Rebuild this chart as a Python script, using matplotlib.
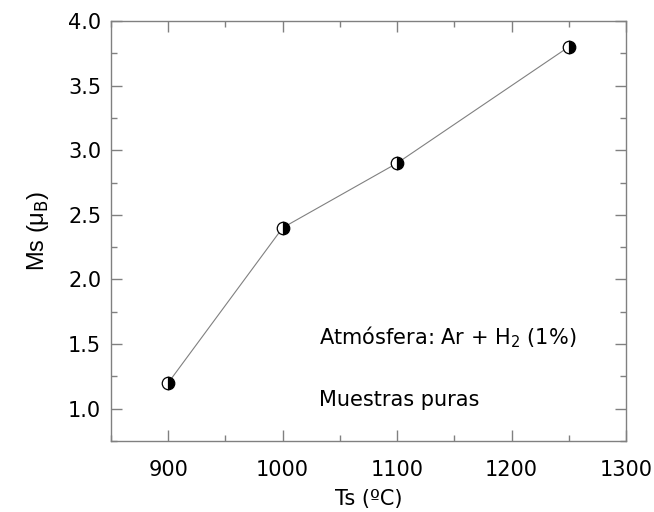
import matplotlib

matplotlib.use("Agg")
import matplotlib.pyplot as plt
from matplotlib.ticker import MultipleLocator, FormatStrFormatter

# sintering temperature (C) vs saturation magnetisation (mu_B)
ts = [900, 1000, 1100, 1250]
ms = [1.2, 2.4, 2.9, 3.8]

plt.rcParams["font.family"] = ["DejaVu Sans"]
plt.rcParams["mathtext.fontset"] = "dejavusans"

fig = plt.figure(figsize=(6.54, 5.12), dpi=100)
ax = fig.add_axes([111 / 654, 1 - 441 / 512, (626 - 111) / 654, (441 - 21) / 512])

ax.plot(ts, ms, color="#808080", lw=0.8, zorder=1)
ax.plot(ts, ms, ls="none", marker="o", ms=9, fillstyle="right",
        markerfacecolor="black", markerfacecoloralt="white",
        markeredgecolor="black", markeredgewidth=0.9, zorder=2)

ax.set_xlim(850, 1300)
ax.set_ylim(0.75, 4.0)
ax.xaxis.set_major_locator(MultipleLocator(100))
ax.xaxis.set_minor_locator(MultipleLocator(50))
ax.yaxis.set_major_locator(MultipleLocator(0.5))
ax.yaxis.set_minor_locator(MultipleLocator(0.25))
ax.yaxis.set_major_formatter(FormatStrFormatter("%.1f"))

for s in ax.spines.values():
    s.set_color("#808080")
    s.set_linewidth(1.0)
ax.tick_params(which="both", direction="in", top=True, right=True,
               color="#808080", labelsize=15)
ax.tick_params(which="major", length=8, width=1.0)
ax.tick_params(which="minor", length=4, width=1.0)
ax.tick_params(axis="x", which="major", pad=14)
ax.tick_params(axis="y", which="major", pad=7)

ax.set_xlabel("Ts (ºC)", fontsize=15, labelpad=6)
ax.set_ylabel("Ms (μ$_{\\rm B}$)", fontsize=17, family="Liberation Sans", labelpad=12)

ax.text(1032, 1.55, r"Atmósfera: Ar + H$_2$ (1%)", fontsize=15, va="center")
ax.text(1032, 1.07, "Muestras puras", fontsize=15, va="center")

fig.savefig("out.png", dpi=100)
